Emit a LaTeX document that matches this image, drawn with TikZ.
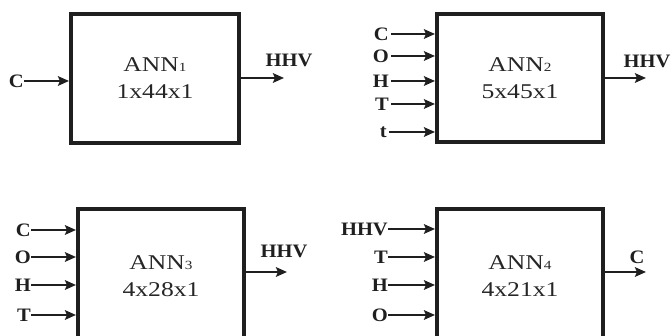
\documentclass[tikz,border=0pt]{standalone}
\usepackage{fontspec}
\setmainfont{Liberation Serif}
\usetikzlibrary{arrows.meta}
\newcommand\annsub[1]{{\fontsize{12.5}{12.5}\selectfont #1}}
\newcommand\wideA[1]{\scalebox{1.22}[1]{#1}}
\newcommand\wideL[1]{\scalebox{1.08}[1]{#1}}
\begin{document}
\begin{tikzpicture}[x=1pt,y=-1pt,
  box/.style={draw=black!88, line width=4pt, minimum width=166pt, minimum height=128pt,
    inner sep=0pt, font=\fontsize{21}{27}\selectfont, align=center, text=black!85},
  lab/.style={inner sep=0pt, font=\fontsize{19}{19}\selectfont\bfseries, text=black!88},
  arr/.style={draw=black!88, line width=2.8pt, -{Stealth[length=11pt,width=9.5pt,inset=2pt]}},
]
\useasboundingbox (0,0) rectangle (672,336);
\clip (0,0) rectangle (672,336);
% boxes
\node[box, minimum width=168pt, minimum height=129pt] (b1) at (155,78.5) {\wideA{ANN\annsub{1}}\\\wideA{1x44x1}};
\node[box] (b2) at (520,78) {\wideA{ANN\annsub{2}}\\\wideA{5x45x1}};
\node[box, minimum height=134pt] (b3) at (161,276) {\wideA{ANN\annsub{3}}\\\wideA{4x28x1}};
\node[box, minimum height=134pt] (b4) at (520,276) {\wideA{ANN\annsub{4}}\\\wideA{4x21x1}};
% box 1
\node[lab, anchor=east] (i1c) at (24,81) {\wideL{C}};
\draw[arr] (i1c.east) -- (i1c.east -| b1.west);
\node[lab] (o1l) at (289,60) {\wideL{HHV}};
\coordinate (o1) at (284,78);
\draw[arr] (o1 -| b1.east) -- (o1);
% box 2
\node[lab, anchor=east] (i2c) at (389,34) {\wideL{C}};
\node[lab, anchor=east] (i2o) at (389,56) {\wideL{O}};
\node[lab, anchor=east] (i2h) at (389,81) {\wideL{H}};
\node[lab, anchor=east] (i2t) at (389,104) {\wideL{T}};
\node[lab, anchor=east] (i2s) at (387,132) {\wideL{t}};
\foreach \n in {i2c,i2o,i2h,i2t,i2s} {\draw[arr] ([xshift=2pt]\n.east) -- (\n.east -| b2.west);}
\node[lab] (o2l) at (647,61) {\wideL{HHV}};
\coordinate (o2) at (646,78);
\draw[arr] (o2 -| b2.east) -- (o2);
% box 3
\node[lab, anchor=east] (i3c) at (31,230) {\wideL{C}};
\node[lab, anchor=east] (i3o) at (31,257) {\wideL{O}};
\node[lab, anchor=east] (i3h) at (31,285) {\wideL{H}};
\node[lab, anchor=east] (i3t) at (31,315) {\wideL{T}};
\foreach \n in {i3c,i3o,i3h,i3t} {\draw[arr] (\n.east) -- (\n.east -| b3.west);}
\node[lab] (o3l) at (284,251.5) {\wideL{HHV}};
\coordinate (o3) at (287,272);
\draw[arr] (o3 -| b3.east) -- (o3);
% box 4
\node[lab, anchor=east] (i4a) at (388,229) {\wideL{HHV}};
\node[lab, anchor=east] (i4t) at (388,257) {\wideL{T}};
\node[lab, anchor=east] (i4h) at (388,285) {\wideL{H}};
\node[lab, anchor=east] (i4o) at (388,315) {\wideL{O}};
\foreach \n in {i4a,i4t,i4h,i4o} {\draw[arr] (\n.east) -- (\n.east -| b4.west);}
\node[lab] (o4l) at (637,257) {\wideL{C}};
\coordinate (o4) at (646,272);
\draw[arr] (o4 -| b4.east) -- (o4);
\end{tikzpicture}
\end{document}
